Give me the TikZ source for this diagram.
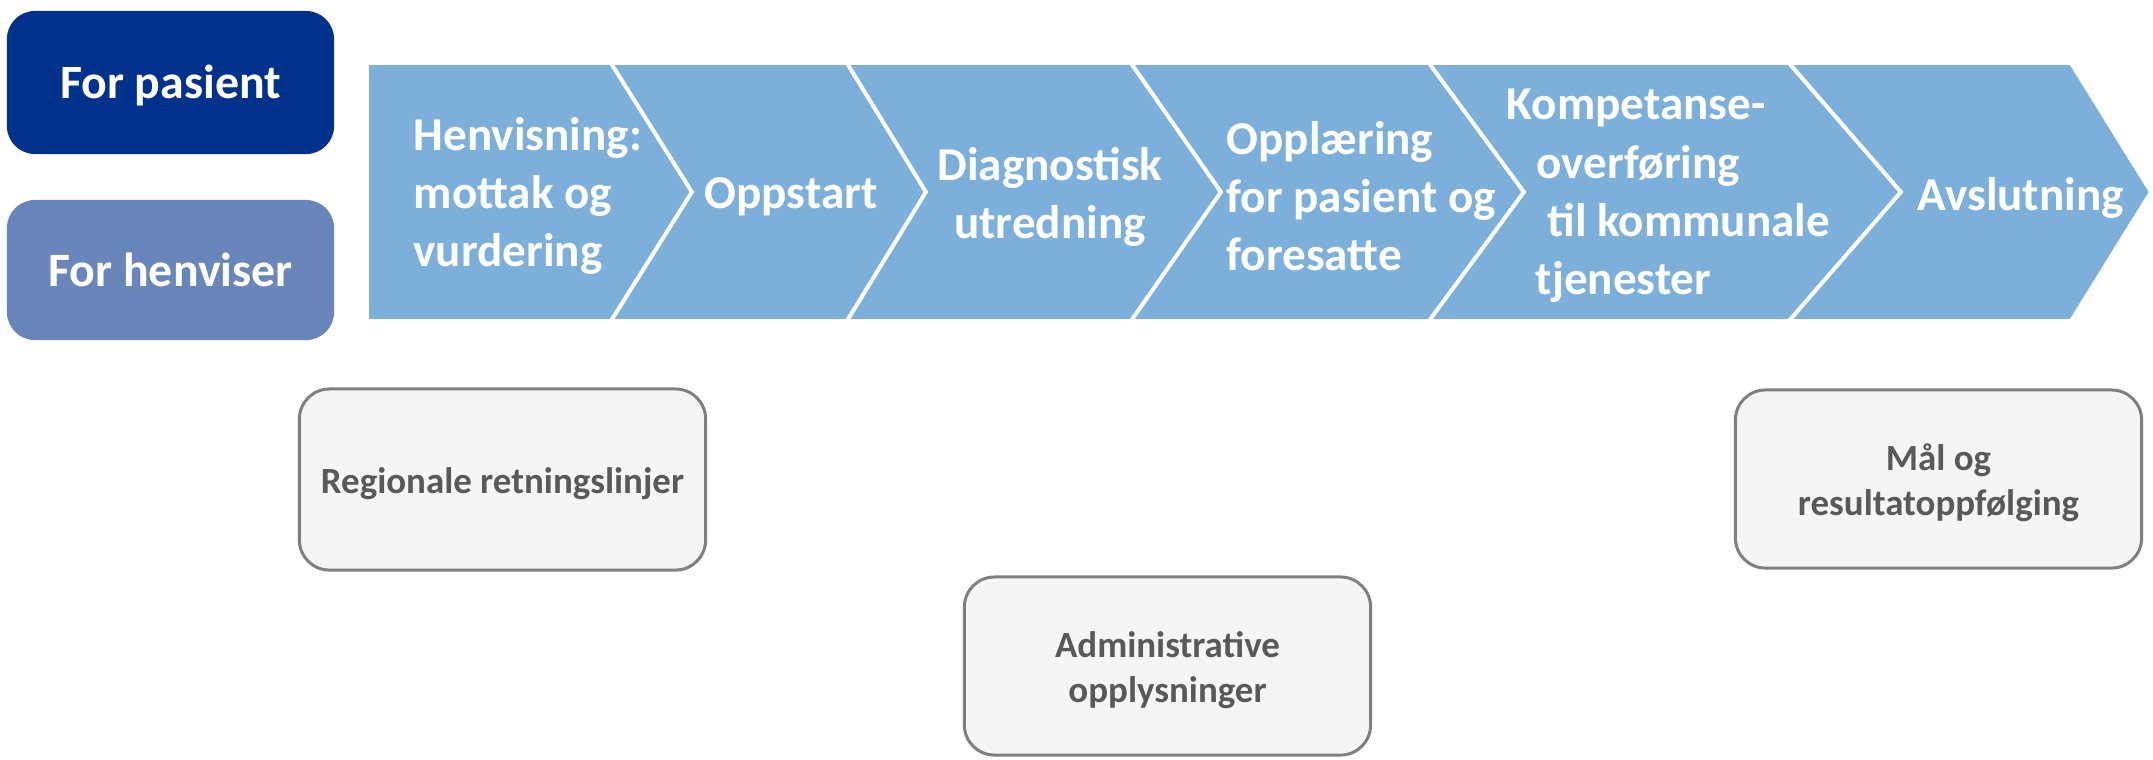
\documentclass[tikz,border=0pt]{standalone}
\usepackage{fontspec}
\setmainfont{Carlito}
\definecolor{pasientblue}{RGB}{0,50,140}
\definecolor{henviserblue}{RGB}{104,134,186}
\definecolor{chevblue}{RGB}{124,176,218}
\definecolor{boxfill}{RGB}{244,245,244}
\definecolor{boxborder}{RGB}{127,127,127}
\definecolor{boxtext}{RGB}{89,89,89}
\begin{document}
\begin{tikzpicture}[x=0.01cm,y=-0.01cm,
  chev/.style={fill=chevblue, draw=white, line width=1.1pt, line join=miter},
  chevtext/.style={text=white, inner sep=0pt, font=\fontsize{13.4}{16.6}\selectfont\bfseries},
  tab/.style={rounded corners=0.28cm, minimum width=3.27cm, inner sep=0pt, text=white,
    font=\fontsize{13.6}{16.4}\selectfont\bfseries},
  infobox/.style={draw=boxborder, fill=boxfill, line width=0.85pt, rounded corners=0.3cm,
    minimum width=4.06cm, inner sep=0pt},
  boxlabel/.style={inner sep=0pt, text=boxtext, align=center,
    font=\fontsize{10.5}{12.8}\selectfont\bfseries}]
\useasboundingbox (0,0) rectangle (2153,759);

% left tabs
\node[tab, fill=pasientblue, minimum height=1.43cm] (pasient) at (170.5,82.5) {};
\node[tab] (pasientt) at ([yshift=-0.025cm]pasient.center) {For pasient};
\node[tab, fill=henviserblue, minimum height=1.40cm] (henviser) at (170.5,270) {For henviser};

% chevrons
\draw[chev] (367,63) -- (611,63) -- (692,192) -- (611,321) -- (367,321) -- cycle;
\draw[chev] (611,63) -- (847,63) -- (926,192) -- (847,321) -- (611,321) -- (692,192) -- cycle;
\draw[chev] (847,63) -- (1131,63) -- (1221,192) -- (1131,321) -- (847,321) -- (926,192) -- cycle;
\draw[chev] (1131,63) -- (1429,63) -- (1524,192) -- (1429,321) -- (1131,321) -- (1221,192) -- cycle;
\draw[chev] (1429,63) -- (1789,63) -- (1901,192) -- (1789,321) -- (1429,321) -- (1524,192) -- cycle;
\draw[chev] (1789,63) -- (2071,63) -- (2151,192) -- (2071,321) -- (1789,321) -- (1901,192) -- cycle;

% chevron texts
\node[chevtext, align=left, anchor=west] (s1) at (413,196) {Henvisning:\\mottak og\\vurdering};
\node[chevtext, anchor=west] (s2) at (704,197) {Oppstart};
\node[chevtext, align=center] (s3) at (1050,197) {Diagnostisk\\utredning};
\node[chevtext, align=left, anchor=west] (s4) at (1226,196) {Opplæring\\for pasient og\\foresatte};
\node[chevtext, align=left, anchor=west] (s5) at (1506,196)
  {Kompetanse-\\\hspace*{0.30cm}overføring\\\hspace*{0.41cm}til kommunale\\\hspace*{0.29cm}tjenester};
\node[chevtext, anchor=west] (s6) at (1917,198) {Avslutning};

% info boxes
\node[infobox, minimum height=1.81cm] (reg) at (502.5,479.5) {};
\node[boxlabel] (regt) at ([yshift=-0.04cm]reg.center) {Regionale retningslinjer};
\node[infobox, minimum height=1.78cm] (adm) at (1167.5,666) {};
\node[boxlabel] (admt) at ([yshift=-0.04cm]adm.center) {Administrative\\opplysninger};
\node[infobox, minimum height=1.78cm] (maal) at (1938.5,479) {};
\node[boxlabel] (maalt) at ([yshift=-0.04cm]maal.center) {Mål og\\resultatoppfølging};
\end{tikzpicture}
\end{document}
